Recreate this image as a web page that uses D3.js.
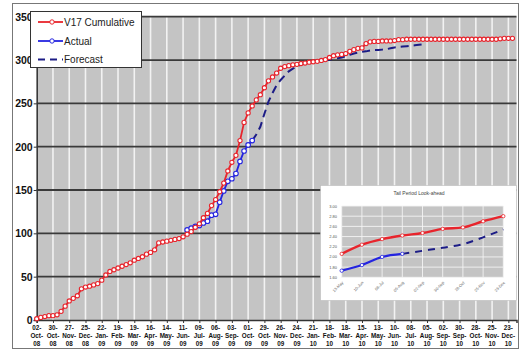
<!DOCTYPE html>
<html><head><meta charset="utf-8">
<script src="https://cdn.jsdelivr.net/npm/d3@7"></script>
<style>body{margin:0;background:#fff}svg{display:block}text{font-family:"Liberation Sans",Arial,sans-serif}</style>
</head><body><svg id="c" width="521" height="355"></svg>
<script>
// ---- data ----
const startDate = "2008-10-02";
const weeksShown = 118;
const tickLabels = ["02-Oct-08","30-Oct-08","27-Nov-08","25-Dec-08","22-Jan-09","19-Feb-09","19-Mar-09","16-Apr-09","14-May-09","11-Jun-09","09-Jul-09","06-Aug-09","03-Sep-09","01-Oct-09","29-Oct-09","26-Nov-09","24-Dec-09","21-Jan-10","18-Feb-10","18-Mar-10","15-Apr-10","13-May-10","10-Jun-10","08-Jul-10","05-Aug-10","02-Sep-10","30-Sep-10","28-Oct-10","25-Nov-10","23-Dec-10"];
const yTicks = [0,50,100,150,200,250,300,350];
const cumulative = [1.5,3,4,5,5,6,10,16,22,25,28,36,38,39,40.5,42,46,52,56,58,60,62,64,66,69,71,73,76,78,81,
 89,90,91,92,93,94,96,99,102,107,111,118,123,132,139,148,158,172,182,190,207,228,239,247,254,260,268,276,280.5,285,
 290.5,292.5,293.5,294.5,295,296,296.5,297.5,298,298.5,299.5,300.5,303,305,306,306.5,307.5,310,312,313.5,314,319,321,321.5,321.5,322,322,322,322.5,323.5,
 323.5,324,324,324,324,324,324,324,324,324,324,324,324,324,324,324,324,324,324,324,324,324,324,324,324.5,325,325,325];
const actualStartWeek = 37;
const actual = [104,106,108,109,112,114,121,122,136,149,160,163,169,183,195,202,207];
const forecastStartWeek = 53;
const forecast = [207,214,223,238,252,262,271,277,282,287,290,292.5,295,296.5,297.5,298,298.5,299,299.5,300.5,301,302,303,304.5,306,307.5,308.5,309.5,310,311,311.5,311.5,312,312.5,313.5,314.5,315,315.5,316,316.5,317,317.5,318];
const seriesNames = ["V17 Cumulative","Actual","Forecast"];
// inset
const insetTitle = "Tail Period Look-ahead";
const insetLabels = ["13-May","10-Jun","08-Jul","05-Aug","02-Sep","30-Sep","28-Oct","25-Nov","23-Dec"];
const insetYTicks = [1.6,1.8,2.0,2.2,2.4,2.6,2.8,3.0];
const insetCumulative = [2.06,2.24,2.35,2.42,2.47,2.55,2.58,2.70,2.80];
const insetActual = [1.73,1.84,2.00,2.06];
const insetForecast = [null,null,null,2.06,2.12,2.18,2.25,2.385,2.54];

// ---- drawing ----
const svg = d3.select("#c");
const RED="#e8242c", BLUE="#2424e0", NAVY="#1c1c86";
const t0 = new Date(startDate+"T00:00:00Z");
const wk = i => d3.utcDay.offset(t0, 7*i);
const x = d3.scaleUtc().domain([t0, wk(weeksShown)]).range([36.7, 516.5]);
const y = d3.scaleLinear().domain([0,350]).range([320,16.7]);

// outer frame
svg.append("rect").attr("x",12.5).attr("y",3.5).attr("width",506).attr("height",345).attr("fill","#fff").attr("stroke","#777");
// plot bg
svg.append("rect").attr("x",x.range()[0]).attr("y",y(350)).attr("width",x.range()[1]-x.range()[0]).attr("height",y(0)-y(350)).attr("fill","#c4c4c4");
// vertical grid
const tickDates = tickLabels.map((d,i)=>d3.utcDay.offset(t0,28*i));
svg.append("g").selectAll("line").data(tickDates.slice(1)).join("line")
 .attr("x1",d=>x(d)).attr("x2",d=>x(d)).attr("y1",y(350)).attr("y2",y(0)).attr("stroke","#f2f2f2").attr("stroke-width",1.6);
// horizontal grid
svg.append("g").selectAll("line").data(yTicks.slice(1)).join("line")
 .attr("x1",x.range()[0]).attr("x2",x.range()[1]).attr("y1",d=>y(d)).attr("y2",d=>y(d)).attr("stroke","#3a3a3a").attr("stroke-width",1.8);

// axes
const yAxis = svg.append("g").attr("transform",`translate(${x.range()[0]},0)`)
 .call(d3.axisLeft(y).tickValues(yTicks).tickSize(3).tickFormat(d3.format("d")));
yAxis.select(".domain").attr("stroke","#333").attr("stroke-width",1.5);
yAxis.selectAll("text").attr("font-size",10.5).attr("font-weight","bold").attr("fill","#111").attr("x",-4);
yAxis.selectAll(".tick line").attr("stroke","#333");

const xAxis = svg.append("g").attr("transform",`translate(0,${y(0)})`)
 .call(d3.axisBottom(x).tickValues(tickDates).tickSize(3).tickFormat(""));
xAxis.select(".domain").attr("stroke","#333").attr("stroke-width",1.5);
xAxis.selectAll(".tick line").attr("stroke","#333");
const xl = svg.append("g");
tickDates.forEach((d,i)=>{
  const parts = tickLabels[i].split("-");
  const t = xl.append("text").attr("x",x(d)).attr("text-anchor","middle").attr("font-size",6.3).attr("font-weight","bold").attr("fill","#111");
  parts.forEach((p,j)=>t.append("tspan").attr("x",x(d)).attr("y",329.5+j*8.4).text(j<2?p+"-":p));
});

// lines
const line = d3.line().defined(d=>d.v!=null).x(d=>x(wk(d.w))).y(d=>y(d.v));
const cumData = cumulative.map((v,i)=>({w:i,v}));
const actData = actual.map((v,i)=>({w:actualStartWeek+i,v}));
const fcData = forecast.map((v,i)=>({w:forecastStartWeek+i,v}));
svg.append("path").datum(fcData).attr("d",line).attr("fill","none").attr("stroke",NAVY).attr("stroke-width",2).attr("stroke-dasharray","8,5");
svg.append("path").datum(actData).attr("d",line).attr("fill","none").attr("stroke",BLUE).attr("stroke-width",1.8);
svg.append("g").selectAll("circle").data(actData).join("circle").attr("cx",d=>x(wk(d.w))).attr("cy",d=>y(d.v)).attr("r",2.3).attr("fill","#fff").attr("stroke",BLUE).attr("stroke-width",1.1);
svg.append("path").datum(cumData).attr("d",line).attr("fill","none").attr("stroke",RED).attr("stroke-width",1.8);
svg.append("g").selectAll("circle").data(cumData).join("circle").attr("cx",d=>x(wk(d.w))).attr("cy",d=>y(d.v)).attr("r",2.1).attr("fill","#fff").attr("stroke",RED).attr("stroke-width",1.1);

// legend
const lg = svg.append("g");
lg.append("rect").attr("x",30.5).attr("y",11.5).attr("width",111).attr("height",56).attr("fill","#fff").attr("stroke","#333");
const lgY=[22,41,59.5];
seriesNames.forEach((n,i)=>{
  const col = i===0?RED:(i===1?BLUE:NAVY);
  lg.append("line").attr("x1",38).attr("x2",63).attr("y1",lgY[i]).attr("y2",lgY[i]).attr("stroke",col).attr("stroke-width",1.8).attr("stroke-dasharray",i===2?"7,5":null);
  if(i<2) lg.append("circle").attr("cx",52).attr("cy",lgY[i]).attr("r",2.2).attr("fill","#fff").attr("stroke",col);
  lg.append("text").attr("x",64).attr("y",lgY[i]+3.5).attr("font-size",10).attr("fill","#222").text(n);
});

// inset
const ig = svg.append("g");
ig.append("rect").attr("x",320.5).attr("y",185.5).attr("width",196).attr("height",115).attr("fill","#fff").attr("stroke","#bbb").attr("stroke-width",0.6);
ig.append("text").attr("x",419).attr("y",195).attr("text-anchor","middle").attr("font-size",5).attr("fill","#444").text(insetTitle);
const ix = d3.scalePoint().domain(insetLabels).range([341.7,503.3]);
const iy = d3.scaleLinear().domain([1.6,3.0]).range([277.3,206]);
ig.append("rect").attr("x",341.7).attr("y",206).attr("width",503.3-341.7).attr("height",277.3-206).attr("fill","#c4c4c4");
ig.append("g").selectAll("line").data(insetLabels).join("line").attr("x1",d=>ix(d)).attr("x2",d=>ix(d)).attr("y1",206).attr("y2",277.3).attr("stroke","#f4f4f4").attr("stroke-width",0.9);
ig.append("g").selectAll("line").data(insetYTicks).join("line").attr("x1",341.7).attr("x2",503.3).attr("y1",d=>iy(d)).attr("y2",d=>iy(d)).attr("stroke","#f4f4f4").attr("stroke-width",0.9);
ig.append("g").selectAll("text").data(insetYTicks).join("text").attr("x",337).attr("y",d=>iy(d)+1.5).attr("text-anchor","end").attr("font-size",4).attr("fill","#555").text(d=>d.toFixed(2));
ig.append("g").selectAll("text").data(insetLabels).join("text")
 .attr("transform",d=>`translate(${ix(d)+2},${283}) rotate(-45)`).attr("text-anchor","end").attr("font-size",4).attr("fill","#666").text(d=>d);
const iline = d3.line().defined(d=>d.v!=null).x(d=>ix(d.k)).y(d=>iy(d.v)).curve(d3.curveMonotoneX);
const iCum = insetCumulative.map((v,i)=>({k:insetLabels[i],v}));
const iAct = insetActual.map((v,i)=>({k:insetLabels[i],v}));
const iFc = insetForecast.map((v,i)=>({k:insetLabels[i],v}));
ig.append("path").datum(iFc).attr("d",iline).attr("fill","none").attr("stroke",NAVY).attr("stroke-width",2).attr("stroke-dasharray","7,6");
ig.append("path").datum(iAct).attr("d",iline).attr("fill","none").attr("stroke",BLUE).attr("stroke-width",2.2);
ig.append("path").datum(iCum).attr("d",iline).attr("fill","none").attr("stroke",RED).attr("stroke-width",2.4);
ig.append("g").selectAll("circle").data(iAct).join("circle").attr("cx",d=>ix(d.k)).attr("cy",d=>iy(d.v)).attr("r",1.7).attr("fill","#fff").attr("stroke",BLUE).attr("stroke-width",0.8);
ig.append("g").selectAll("circle").data(iCum).join("circle").attr("cx",d=>ix(d.k)).attr("cy",d=>iy(d.v)).attr("r",1.7).attr("fill","#fff").attr("stroke",RED).attr("stroke-width",0.8);
</script></body></html>
